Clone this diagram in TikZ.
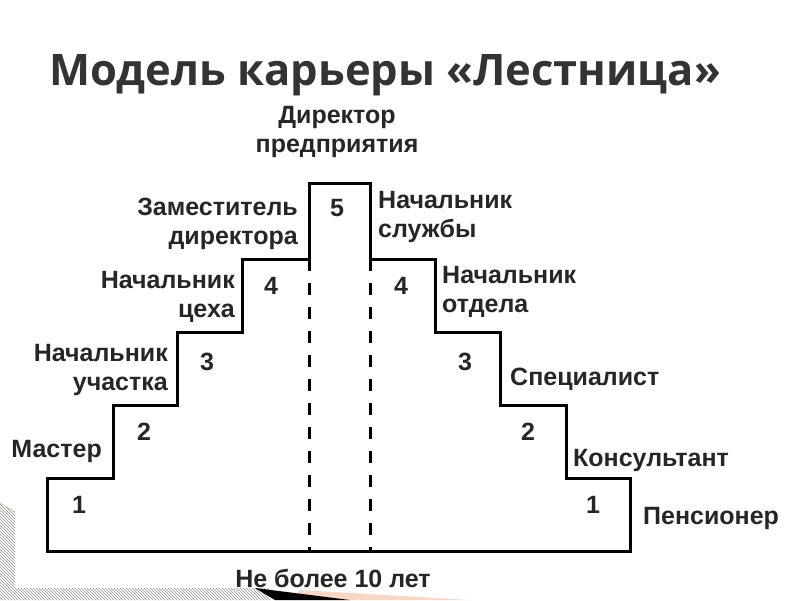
\documentclass[tikz,border=0pt]{standalone}
\usepackage{fontspec}
\setmainfont{Liberation Sans}
\newfontfamily\titlefont{Open Sans}
\usetikzlibrary{patterns}
\definecolor{peach}{RGB}{250,215,195}
\tikzset{
  lbl/.style={font=\bfseries\fontsize{25}{29}\selectfont, text=black!85, inner sep=0pt},
  stair/.style={line width=3pt, line join=miter},
  gap/.style={line width=3pt, dash pattern=on 12pt off 12pt}
}
\begin{document}
\begin{tikzpicture}[x=1pt,y=-1pt]
    \useasboundingbox (0,0) rectangle (800,600);
    % slide decoration
    \fill[pattern=north west lines, pattern color=black!45] (0,503)--(15,512)--(15,588)--(270,588)--(270,600)--(0,600)--cycle;
    \draw[brown!60, line width=0.6pt] (0,503)--(15,512);
    \fill[peach] (300,590)--(470,600)--(290,600)--cycle;
    \fill[black] (255,588)--(350,600)--(275,600)--cycle;
    % title
    \node[font=\titlefont\bfseries\fontsize{43.5}{50}\selectfont, text=black!80] (title) at (385,75) {Модель карьеры «Лестница»};
    % stairs
    \draw[stair] (47,551) -- (47,478) -- (113,478) -- (113,405) -- (177,405) -- (177,332)
        -- (242,332) -- (242,259) -- (309,259) -- (309,183) -- (370,183) -- (370,259)
        -- (435,259) -- (435,332) -- (500,332) -- (500,405) -- (566,405) -- (566,478)
        -- (630,478) -- (630,551) -- cycle;
    \draw[gap] (309,259) -- (309,551);
    \draw[gap] (370,259) -- (370,551);
    % levels
    \node[lbl] (n5) at (337,208) {5};
    \node[lbl] (n4l) at (271,286) {4};
    \node[lbl] (n4r) at (401,286) {4};
    \node[lbl] (n3l) at (207,362) {3};
    \node[lbl] (n3r) at (465,362) {3};
    \node[lbl] (n2l) at (144,432) {2};
    \node[lbl] (n2r) at (528,432) {2};
    \node[lbl] (n1l) at (79,505) {1};
    \node[lbl] (n1r) at (593,505) {1};
    % posts, left side
    \node[lbl, align=center] (direktor) at (337,132) {Директор\\предприятия};
    \node[lbl, align=right, anchor=east] (zam) at (298,224) {Заместитель\\директора};
    \node[lbl, align=right, anchor=east] (cekh) at (235,297) {Начальник\\цеха};
    \node[lbl, align=right, anchor=east] (uchastok) at (168,370) {Начальник\\участка};
    \node[lbl, anchor=east] (master) at (102,451) {Мастер};
    % posts, right side
    \node[lbl, align=left, anchor=west] (sluzhba) at (378,217) {Начальник\\службы};
    \node[lbl, align=left, anchor=west] (otdel) at (442,292) {Начальник\\отдела};
    \node[lbl, anchor=west] (spec) at (510,379) {Специалист};
    \node[lbl, anchor=west] (kons) at (573,460) {Консультант};
    \node[lbl, anchor=west] (pens) at (643,518) {Пенсионер};
    \node[lbl] (srok) at (333,578) {Не более 10 лет};
\end{tikzpicture}
\end{document}
